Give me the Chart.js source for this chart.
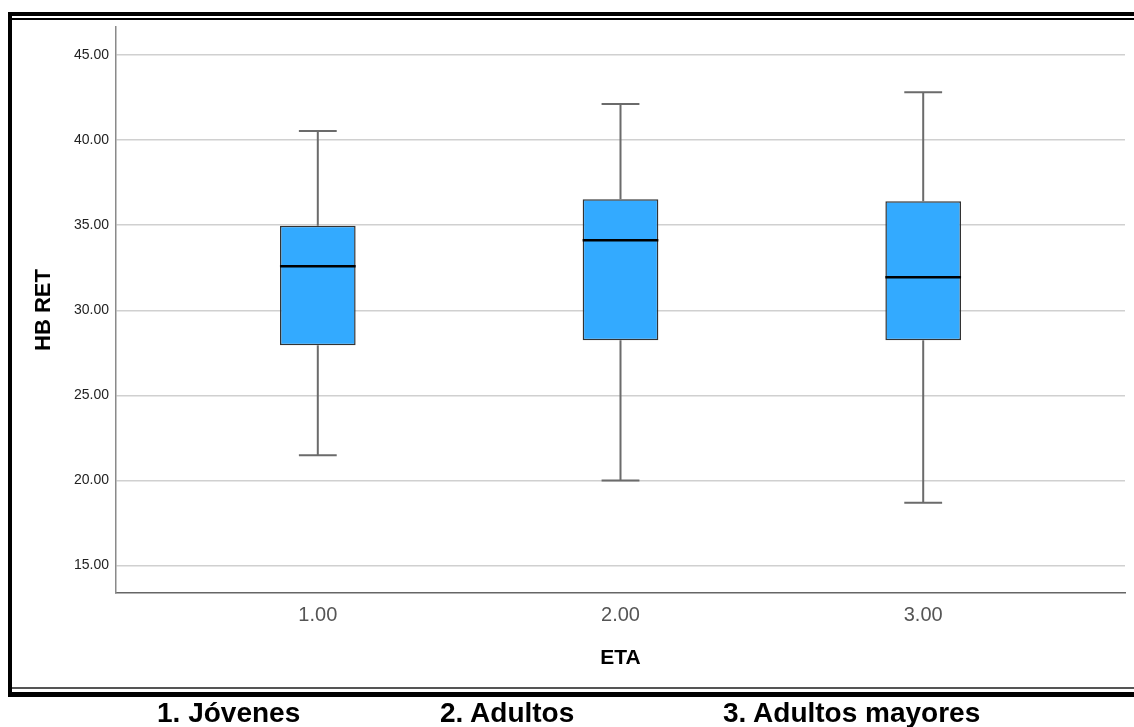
<!DOCTYPE html>
<html>
<head>
<meta charset="utf-8">
<script src="https://cdn.jsdelivr.net/npm/chart.js@4"></script>
<style>
  html, body { margin: 0; padding: 0; background: #fff; }
  #wrap { position: relative; width: 1134px; height: 727px; }
  .grp { position: absolute; top: 697px; font: bold 28px "Liberation Sans", Arial, sans-serif; color: #000; white-space: nowrap; }
</style>
</head>
<body>
<div id="wrap">
  <canvas id="chartBox" width="1134" height="727"></canvas>
  <div class="grp" style="left:157px">1. Jóvenes</div>
  <div class="grp" style="left:440px">2. Adultos</div>
  <div class="grp" style="left:723px">3. Adultos mayores</div>
</div>
<script>
// datos del diagrama de caja (HB RET por grupo de edad)
const grupos     = [1, 2, 3];
const bigoteMin  = [21.47, 20.00, 18.69];
const cuartil1   = [27.94, 28.24, 28.24];
const mediana    = [32.59, 34.12, 31.94];
const cuartil3   = [34.96, 36.53, 36.41];
const bigoteMax  = [40.53, 42.12, 42.82];
const ticksY     = [15, 20, 25, 30, 35, 40, 45];

// bigotes y mediana dibujados sobre las escalas del gráfico
const boxExtras = {
  id: 'boxExtras',
  afterDatasetsDraw(chart) {
    const ctx = chart.ctx;
    const x = chart.scales.x, y = chart.scales.y;
    const bars = chart.getDatasetMeta(0).data;
    ctx.save();
    grupos.forEach((g, i) => {
      const cx = x.getPixelForValue(g);
      const w = bars[i].width;
      const cap = w / 4;
      ctx.strokeStyle = '#6b6b6b';
      ctx.lineWidth = 2;
      ctx.beginPath();
      ctx.moveTo(cx, y.getPixelForValue(cuartil3[i]));
      ctx.lineTo(cx, y.getPixelForValue(bigoteMax[i]));
      ctx.moveTo(cx - cap, y.getPixelForValue(bigoteMax[i]));
      ctx.lineTo(cx + cap, y.getPixelForValue(bigoteMax[i]));
      ctx.moveTo(cx, y.getPixelForValue(cuartil1[i]));
      ctx.lineTo(cx, y.getPixelForValue(bigoteMin[i]));
      ctx.moveTo(cx - cap, y.getPixelForValue(bigoteMin[i]));
      ctx.lineTo(cx + cap, y.getPixelForValue(bigoteMin[i]));
      ctx.stroke();
      ctx.strokeStyle = '#000';
      ctx.lineWidth = 2.5;
      ctx.beginPath();
      ctx.moveTo(cx - w / 2, y.getPixelForValue(mediana[i]));
      ctx.lineTo(cx + w / 2, y.getPixelForValue(mediana[i]));
      ctx.stroke();
    });
    ctx.restore();
  },
  afterDraw(chart) {
    // marco de la figura
    const ctx = chart.ctx;
    ctx.save();
    ctx.fillStyle = '#000';
    ctx.fillRect(8, 12, 1126, 4);
    ctx.fillRect(11, 18, 1123, 2);
    ctx.fillRect(8, 12, 4, 685);
    ctx.fillRect(8, 692, 1126, 5);
    ctx.fillStyle = '#555';
    ctx.fillRect(12, 687, 1122, 2);
    ctx.restore();
  }
};

new Chart(document.getElementById('chartBox'), {
  type: 'bar',
  data: {
    datasets: [{
      data: grupos.map((g, i) => ({ x: g, y: [cuartil1[i], cuartil3[i]] })),
      backgroundColor: '#33aaff',
      borderColor: '#333333',
      borderWidth: 1.5,
      borderSkipped: false,
      barPercentage: 0.25,
      categoryPercentage: 1
    }]
  },
  options: {
    responsive: false,
    animation: false,
    layout: { padding: { left: 0, top: 27, right: 9, bottom: 54 } },
    plugins: { legend: { display: false }, tooltip: { enabled: false } },
    scales: {
      x: {
        type: 'linear',
        offset: false,
        min: 1 / 3,
        max: 11 / 3,
        afterBuildTicks: s => { s.ticks = grupos.map(v => ({ value: v })); },
        afterFit: s => { s.height = 80; },
        grid: { display: false, drawTicks: false },
        border: { color: '#666', width: 1.5 },
        ticks: {
          padding: 10,
          color: '#555',
          font: { family: 'Liberation Sans, Arial', size: 20 },
          callback: v => v.toFixed(2)
        },
        title: {
          display: true, text: 'ETA', color: '#000',
          font: { family: 'Liberation Sans, Arial', size: 21, weight: 'bold' },
          padding: { top: 0, bottom: 2 }
        }
      },
      y: {
        min: 13.38,
        max: 46.65,
        afterBuildTicks: s => { s.ticks = ticksY.map(v => ({ value: v })); },
        afterFit: s => { s.width = 116; },
        grid: { color: '#d0d0d0', lineWidth: 1.5, drawTicks: false },
        border: { color: '#8a8a8a', width: 1.5 },
        ticks: {
          padding: 7,
          color: '#222',
          font: { family: 'Liberation Sans, Arial', size: 14 },
          callback: v => v.toFixed(2)
        },
        title: {
          display: true, text: 'HB RET', color: '#000',
          font: { family: 'Liberation Sans, Arial', size: 22, weight: 'bold' },
          padding: { top: 31, bottom: 0 }
        }
      }
    }
  },
  plugins: [boxExtras]
});
</script>
</body>
</html>
